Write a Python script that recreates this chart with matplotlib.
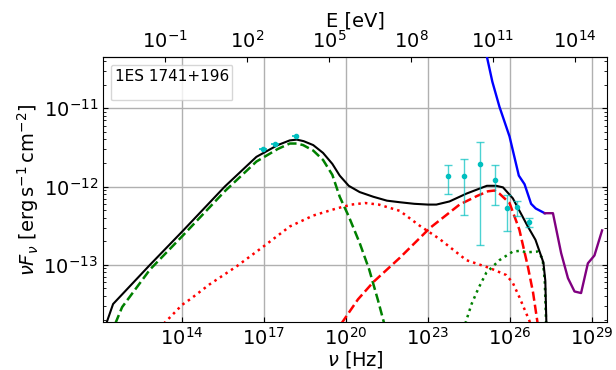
import numpy as np
import matplotlib.pyplot as plt
from matplotlib.lines import Line2D
from matplotlib.ticker import NullLocator

H_EV = 4.135667e-15  # Planck constant, eV s

# model curves, log10(nu / Hz) and log10(nuFnu / erg s^-1 cm^-2)
tot_lognu = [11.22, 11.47, 12.82, 14.04, 15.56, 16.72, 17.50, 17.94, 18.20, 18.45, 18.80,
             19.16, 19.50, 19.77, 20.10, 20.50, 21.00, 21.50, 21.97, 22.50, 23.00, 23.31,
             23.79, 24.41, 25.16, 25.50, 25.75, 26.11, 26.66, 26.94, 27.23, 27.30, 27.34]
tot_logf = [-13.75, -13.50, -13.00, -12.56, -12.00, -11.62, -11.47, -11.41, -11.40, -11.42, -11.47,
            -11.57, -11.71, -11.86, -11.99, -12.07, -12.13, -12.18, -12.20, -12.22, -12.23, -12.23,
            -12.19, -12.09, -11.99, -11.99, -12.01, -12.15, -12.51, -12.68, -12.97, -13.20, -13.75]

sync_lognu = [11.55, 11.80, 12.82, 14.04, 15.56, 16.72, 17.50, 17.94, 18.20, 18.43, 18.80,
              19.16, 19.50, 19.77, 20.10, 20.50, 20.85, 21.17, 21.40]
sync_logf = [-13.75, -13.54, -13.06, -12.62, -12.06, -11.68, -11.52, -11.45, -11.45, -11.47, -11.54,
             -11.66, -11.85, -12.13, -12.38, -12.72, -13.06, -13.45, -13.75]

ssc1_lognu = [13.33, 14.00, 14.29, 15.00, 15.99, 16.96, 17.94, 18.80, 19.65, 20.20, 20.70,
              21.20, 21.97, 22.70, 23.43, 24.41, 25.26, 25.87, 26.11, 26.36, 26.76]
ssc1_logf = [-13.75, -13.51, -13.44, -13.25, -13.02, -12.77, -12.51, -12.37, -12.28, -12.23, -12.21,
             -12.23, -12.31, -12.50, -12.67, -12.94, -13.04, -13.13, -13.23, -13.42, -13.75]

ssc2_lognu = [19.83, 20.44, 21.00, 21.97, 23.07, 24.16, 24.80, 25.20, 25.45, 25.62, 25.99,
              26.35, 26.66, 26.85, 27.02]
ssc2_logf = [-13.75, -13.44, -13.22, -12.91, -12.53, -12.23, -12.12, -12.06, -12.05, -12.09, -12.21,
             -12.55, -13.02, -13.35, -13.75]

ec_lognu = [24.37, 24.60, 24.85, 25.14, 25.62, 26.11, 26.40, 26.60, 27.03, 27.20, 27.28, 27.33]
ec_logf = [-13.75, -13.50, -13.30, -13.10, -12.94, -12.83, -12.82, -12.84, -12.83, -12.92, -13.20, -13.75]

# instrument sensitivity curves
sens1_lognu = [25.10, 25.16, 25.36, 25.62, 25.99, 26.33, 26.54, 26.78, 26.95, 27.28]
sens1_logf = [-10.24, -10.34, -10.66, -10.98, -11.36, -11.86, -11.97, -12.22, -12.28, -12.34]

sens2_lognu = [27.28, 27.58, 27.88, 28.13, 28.37, 28.61, 28.86, 29.10, 29.38]
sens2_logf = [-12.34, -12.34, -12.85, -13.17, -13.34, -13.36, -12.98, -12.88, -12.56]

# observed fluxes
xray_lognu = [16.96, 17.39, 18.16]
xray_logf = [-11.52, -11.46, -11.35]
xray_dlognu = [0.15, 0.15, 0.12]

gam_lognu = [23.73, 24.32, 24.89, 25.45, 25.89, 26.26, 26.70]
gam_logf = [-11.87, -11.87, -11.71, -11.91, -12.28, -12.26, -12.45]
gam_loglo = [-12.10, -12.36, -12.74, -12.23, -12.57, -12.37, -12.52]
gam_loghi = [-11.73, -11.65, -11.43, -11.72, -12.11, -12.18, -12.40]


def p(a):
    return 10.0 ** np.asarray(a)


fig = plt.figure(figsize=(6.16, 3.7), dpi=100)
ax = fig.add_axes([0.1672, 0.1297, 0.8182, 0.7162])

ax.plot(p(tot_lognu), p(tot_logf), color='k', lw=1.5, zorder=5)
ax.plot(p(sync_lognu), p(sync_logf), color='g', ls='--', lw=1.8, zorder=4)
ax.plot(p(ssc1_lognu), p(ssc1_logf), color='r', ls=':', lw=1.8, zorder=4)
ax.plot(p(ssc2_lognu), p(ssc2_logf), color='r', ls='--', lw=1.8, zorder=4)
ax.plot(p(ec_lognu), p(ec_logf), color='g', ls=':', lw=1.8, zorder=4)
ax.plot(p(sens1_lognu), p(sens1_logf), color='b', lw=1.7, zorder=4)
ax.plot(p(sens2_lognu), p(sens2_logf), color='purple', lw=1.7, zorder=4)

xf = p(xray_logf)
xn = p(xray_lognu)
ax.errorbar(xn, xf,
            xerr=[xn - p(np.array(xray_lognu) - xray_dlognu), p(np.array(xray_lognu) + xray_dlognu) - xn],
            yerr=0.04 * xf, fmt='o', color='c', ms=3, elinewidth=1.2, capsize=0, zorder=6)

gf = p(gam_logf)
ax.errorbar(p(gam_lognu), gf, yerr=[gf - p(gam_loglo), p(gam_loghi) - gf],
            fmt='o', color='c', ms=3, elinewidth=1, ecolor=(0, 0.75, 0.75, 0.7),
            capsize=3, zorder=6)

ax.set_xscale('log')
ax.set_yscale('log')
ax.set_xlim(10 ** 11.1, 10 ** 29.56)
ax.set_ylim(10 ** -13.73, 10 ** -10.345)
ax.set_xticks([1e14, 1e17, 1e20, 1e23, 1e26, 1e29])
ax.xaxis.set_minor_locator(NullLocator())
ax.tick_params(which='both', direction='in', right=True, labelsize=14)
ax.grid(True, which='major', color='#b0b0b0', lw=1)
ax.set_axisbelow(True)

ax.set_xlabel(r'$\nu$ [Hz]', fontsize=14, labelpad=0)
ax.set_ylabel(r'$\nu F_\nu$ [erg$\,$s$^{-1}\,$cm$^{-2}$]', fontsize=14, labelpad=2)

top = ax.secondary_xaxis('top', functions=(lambda x: x * H_EV, lambda e: e / H_EV))
top.set_xticks([1e-1, 1e2, 1e5, 1e8, 1e11, 1e14])
top.xaxis.set_minor_locator(NullLocator())
top.tick_params(direction='in', labelsize=14)
top.set_xlabel('E [eV]', fontsize=14, labelpad=3)

# source name box
ax.legend(handles=[Line2D([], [], ls='none')], labels=[''],
          title='1ES 1741+196', title_fontsize=11, fontsize=6, loc='upper left',
          handlelength=0, handletextpad=0, borderaxespad=1.0)

fig.savefig('out.png', dpi=100)
